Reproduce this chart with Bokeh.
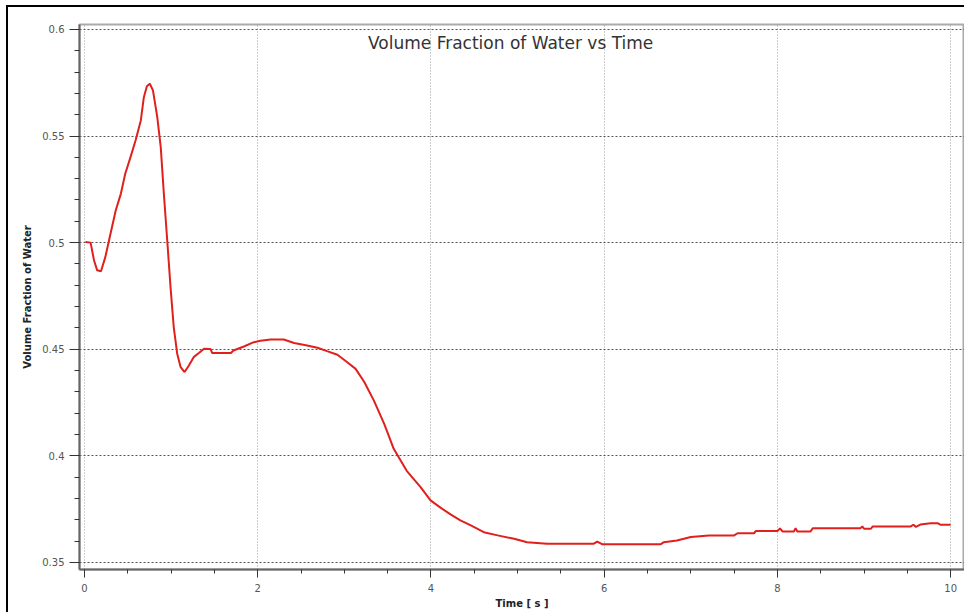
import numpy as np
from bokeh.plotting import figure
from bokeh.models import FixedTicker, Label, Range1d
from bokeh.embed import file_html
from bokeh.resources import INLINE

# ---- data ----
time_s = [0.01, 0.07, 0.11, 0.146, 0.19, 0.24, 0.30, 0.36, 0.42, 0.47, 0.53, 0.59,
          0.65, 0.685, 0.72, 0.754, 0.79, 0.84, 0.88, 0.916, 0.955, 0.993, 1.03,
          1.07, 1.11, 1.155, 1.205, 1.26, 1.32, 1.38, 1.455, 1.475, 1.69, 1.72,
          1.84, 1.955, 2.03, 2.15, 2.30, 2.42, 2.57, 2.69, 2.80, 2.92, 3.03, 3.13,
          3.23, 3.34, 3.46, 3.57, 3.72, 3.88, 3.995, 4.11, 4.23, 4.34, 4.46, 4.61,
          4.77, 4.96, 5.11, 5.34, 5.88, 5.92, 5.98, 6.65, 6.69, 6.84, 7.0, 7.21,
          7.50, 7.54, 7.73, 7.75, 8.0, 8.03, 8.06, 8.19, 8.21, 8.23, 8.38, 8.41,
          8.96, 8.98, 9.0, 9.08, 9.10, 9.54, 9.57, 9.60, 9.65, 9.77, 9.85, 9.88, 10.0]
vol_frac = [0.5003, 0.5000, 0.4916, 0.4870, 0.4866, 0.4932, 0.5042, 0.5151, 0.5230,
            0.5323, 0.5400, 0.5480, 0.5573, 0.5682, 0.5733, 0.5745, 0.5714, 0.5589,
            0.5448, 0.5229, 0.5010, 0.4791, 0.4604, 0.4479, 0.4416, 0.4393, 0.4424,
            0.4463, 0.4482, 0.4502, 0.4501, 0.4482, 0.4482, 0.4494, 0.4513, 0.4533,
            0.4540, 0.4546, 0.4546, 0.4529, 0.4518, 0.4507, 0.4491, 0.4474, 0.4440,
            0.4408, 0.4346, 0.4260, 0.4150, 0.4033, 0.3930, 0.3853, 0.3791, 0.3757,
            0.3724, 0.3697, 0.3674, 0.3642, 0.3627, 0.3611, 0.3595, 0.3588, 0.3588,
            0.3598, 0.3585, 0.3585, 0.3595, 0.3603, 0.3619, 0.3627, 0.3627, 0.3637,
            0.3637, 0.3647, 0.3647, 0.3660, 0.3645, 0.3645, 0.3660, 0.3645, 0.3645,
            0.3661, 0.3661, 0.3669, 0.3658, 0.3658, 0.3669, 0.3669, 0.3677, 0.3667,
            0.3678, 0.3684, 0.3684, 0.3677, 0.3677]

x_ticks = [0, 2, 4, 6, 8, 10]
x_tick_labels = ["0", "2", "4", "6", "8", "10"]
y_ticks = [0.35, 0.4, 0.45, 0.5, 0.55, 0.6]
y_tick_labels = ["0.35", "0.4", "0.45", "0.5", "0.55", "0.6"]

title_text = "Volume Fraction of Water vs Time"
x_label = "Time [ s ]"
y_label = "Volume Fraction of Water"

p = figure(width=964, height=612, output_backend="svg", toolbar_location=None,
           x_range=Range1d(-0.058, 10.16), y_range=Range1d(0.3467, 0.6023),
           min_border_left=79, min_border_right=0, min_border_top=24,
           min_border_bottom=43)

p.line(time_s, vol_frac, line_color="#e0201c", line_width=2)

font = "DejaVu Sans"
x_minor = [float(v) for v in np.arange(0, 10.01, 0.5) if v not in x_ticks]
y_minor = [round(float(v), 3) for v in np.arange(0.35, 0.6001, 0.01)]

p.xaxis.ticker = FixedTicker(ticks=x_ticks, minor_ticks=x_minor)
p.yaxis.ticker = FixedTicker(ticks=y_ticks, minor_ticks=y_minor)
p.xaxis.major_label_overrides = dict(zip(x_ticks, x_tick_labels))
p.yaxis.major_label_overrides = dict(zip(y_ticks, y_tick_labels))

for ax in (p.xaxis[0], p.yaxis[0]):
    ax.major_label_text_font = font
    ax.major_label_text_font_size = "10px"
    ax.major_label_text_color = "#555555"
    ax.axis_label_text_font = font
    ax.axis_label_text_font_size = "10px"
    ax.axis_label_text_font_style = "bold"
    ax.axis_label_text_color = "#222222"
    ax.axis_line_color = "#666666"
    ax.axis_line_width = 2
    ax.major_tick_line_color = "#333333"
    ax.minor_tick_line_color = "#333333"
    ax.major_tick_line_width = 1
    ax.minor_tick_line_width = 1
    ax.major_tick_in = 0
    ax.minor_tick_in = 0

p.xaxis.axis_label = x_label
p.yaxis.axis_label = y_label
p.xaxis.major_tick_out = 8
p.xaxis.minor_tick_out = 4
p.xaxis.major_label_standoff = 6
p.xaxis.axis_label_standoff = 3
p.yaxis.major_tick_out = 10
p.yaxis.minor_tick_out = 5
p.yaxis.major_label_standoff = 5
p.yaxis.axis_label_standoff = 6

p.xgrid.grid_line_color = "#999999"
p.xgrid.grid_line_dash = "1 2"
p.ygrid.grid_line_color = "#555555"
p.ygrid.grid_line_dash = "2 2"

p.outline_line_color = "#aaaaaa"
p.outline_line_width = 2
p.background_fill_color = "white"
p.border_fill_alpha = 0

p.add_layout(Label(x=4.92, y=0.5934, text=title_text, text_align="center",
                   text_baseline="middle", text_font=font, text_font_size="17px",
                   text_color="#333333"))

p.styles = {
    "background-color": "white",
    "background-image": "linear-gradient(#000,#000), linear-gradient(#000,#000)",
    "background-size": "2px 100%, 100% 2px",
    "background-position": "6px 6px, 6px 5px",
    "background-repeat": "no-repeat",
}

open("out.html", "w").write(file_html(p, INLINE))
